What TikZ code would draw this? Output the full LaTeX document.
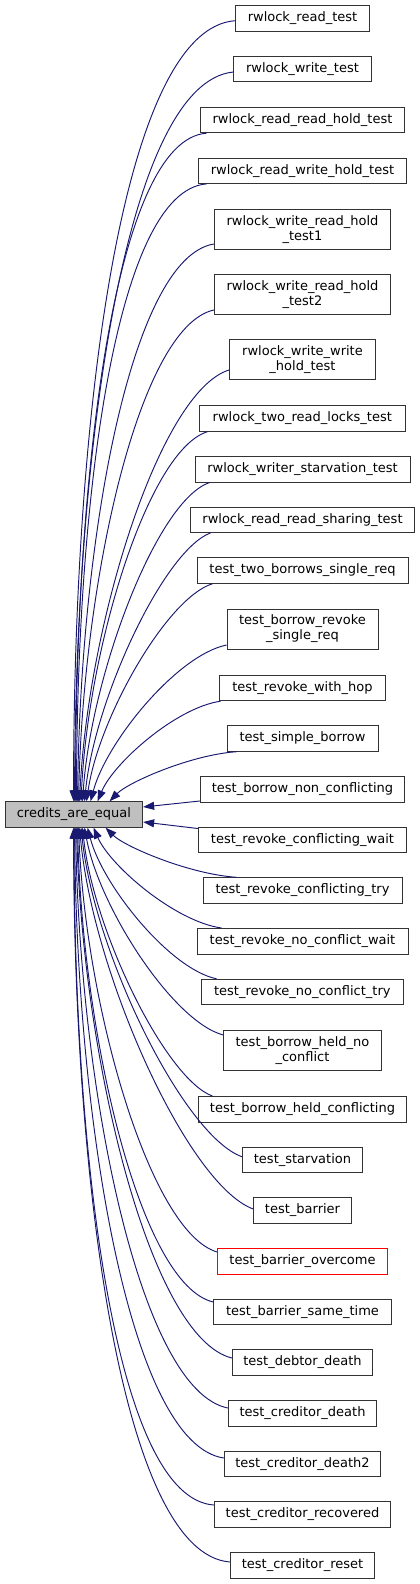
\documentclass[tikz,border=0pt]{standalone}
\usepackage{fontspec}
\setmainfont{DejaVu Sans}
\usetikzlibrary{arrows.meta,calc}
\definecolor{edgecol}{HTML}{191970}
\definecolor{caefill}{HTML}{BFBFBF}
\definecolor{redb}{HTML}{FF0000}
\newcommand\cedge[3]{%
  \path[cline] let \p1=(#1), \p2=(#2),
    \n1={abs(\x2-\x1)}, \n2={abs(\y2-\y1)},
    \n3={min(max((\n2/\n1-2.1)/2.7,0),1)},
    \n4={0.08*(1-\n3)+0.08*max(0,1-\n2/\n1/2.1)}
  in (\p1) .. controls ({\x1+\n4*\n1},{\y1+#3*(0.38+0.12*\n3)*\n2}) and ({\x2-(0.365+0.335*\n3)*\n1},{\y2-#3*(0.065-0.055*\n3)*\n2}) .. (\p2);}
\begin{document}
\begin{tikzpicture}[x=1pt,y=-1pt,
  tbox/.style={draw=black!80,line width=0.9pt,fill=white,inner sep=0pt,minimum height=25.5pt,font=\fontsize{13}{15}\selectfont,align=center},
  tall/.style={minimum height=40pt},
  cline/.style={draw=edgecol,line width=0.95pt,{Triangle[length=11pt,width=8pt]}-}]
\useasboundingbox (0,0) rectangle (420,1584);
\node[tbox,minimum width=133.5pt] (t1) at (302.5,18.5) {rwlock\_read\_test};
\node[tbox,minimum width=137.3pt] (t2) at (302.5,69.2) {rwlock\_write\_test};
\node[tbox,minimum width=204.4pt] (t3) at (302.5,120) {rwlock\_read\_read\_hold\_test};
\node[tbox,minimum width=208.4pt] (t4) at (302.5,170.7) {rwlock\_read\_write\_hold\_test};
\node[tbox,tall,minimum width=176.4pt] (t5) at (302.5,229.2) {rwlock\_write\_read\_hold\\\_test1};
\node[tbox,tall,minimum width=176.4pt] (t6) at (302.5,294.5) {rwlock\_write\_read\_hold\\\_test2};
\node[tbox,tall,minimum width=145.6pt] (t7) at (302.5,359.9) {rwlock\_write\_write\\\_hold\_test};
\node[tbox,minimum width=206pt] (t8) at (302.3,418.5) {rwlock\_two\_read\_locks\_test};
\node[tbox,minimum width=215pt] (t9) at (302.5,469.3) {rwlock\_writer\_starvation\_test};
\node[tbox,minimum width=224.4pt] (t10) at (302.5,519.7) {rwlock\_read\_read\_sharing\_test};
\node[tbox,minimum width=211pt] (t11) at (302.5,570.5) {test\_two\_borrows\_single\_req};
\node[tbox,tall,minimum width=151pt] (t12) at (302.5,629) {test\_borrow\_revoke\\\_single\_req};
\node[tbox,minimum width=165.6pt] (t13) at (302.5,688) {test\_revoke\_with\_hop};
\node[tbox,minimum width=151pt] (t14) at (302.5,738.5) {test\_simple\_borrow};
\node[tbox,minimum width=204.4pt] (t15) at (302.5,789.3) {test\_borrow\_non\_conflicting};
\node[tbox,minimum width=208.4pt] (t16) at (302.5,839.8) {test\_revoke\_conflicting\_wait};
\node[tbox,minimum width=199pt] (t17) at (302.5,890.5) {test\_revoke\_conflicting\_try};
\node[tbox,minimum width=211pt] (t18) at (302.5,941.2) {test\_revoke\_no\_conflict\_wait};
\node[tbox,minimum width=202pt] (t19) at (302.3,992) {test\_revoke\_no\_conflict\_try};
\node[tbox,tall,minimum width=157.6pt] (t20) at (302.5,1050.7) {test\_borrow\_held\_no\\\_conflict};
\node[tbox,minimum width=208.4pt] (t21) at (302.5,1109.3) {test\_borrow\_held\_conflicting};
\node[tbox,minimum width=120.4pt] (t22) at (302.5,1160) {test\_starvation};
\node[tbox,minimum width=97.6pt] (t23) at (302.5,1210.3) {test\_barrier};
\node[tbox,draw=redb,minimum width=169.6pt] (t24) at (302.5,1261.3) {test\_barrier\_overcome};
\node[tbox,minimum width=177.6pt] (t25) at (302.5,1312) {test\_barrier\_same\_time};
\node[tbox,minimum width=140.4pt] (t26) at (302.5,1362.5) {test\_debtor\_death};
\node[tbox,minimum width=148.4pt] (t27) at (302.5,1413.3) {test\_creditor\_death};
\node[tbox,minimum width=156.4pt] (t28) at (302.5,1463.8) {test\_creditor\_death2};
\node[tbox,minimum width=176.4pt] (t29) at (302.5,1514.5) {test\_creditor\_recovered};
\node[tbox,minimum width=144.4pt] (t30) at (302.5,1565.5) {test\_creditor\_reset};
\node[tbox,fill=caefill,minimum width=137.7pt] (cae) at (73.85,814.5) {credits\_are\_equal};
% edges to upper callers
\cedge{$(cae.north west)+(69,0)$}{$(t1.west)+(0,2.2)$}{1}
\cedge{$(cae.north west)+(70,0)$}{$(t2.west)+(0,2.8)$}{1}
\cedge{$(cae.north west)+(71,0)$}{$(t3.south west)+(6.7,0)$}{1}
\cedge{$(cae.north west)+(72,0)$}{$(t4.south west)+(8.7,0)$}{1}
\cedge{$(cae.north west)+(73,0)$}{$(t5.west)+(0,14.8)$}{1}
\cedge{$(cae.north west)+(74,0)$}{$(t6.west)+(0,15.5)$}{1}
\cedge{$(cae.north west)+(75,0)$}{$(t7.west)+(0,10)$}{1}
\cedge{$(cae.north west)+(76.5,0)$}{$(t8.south west)+(8.7,0)$}{1}
\cedge{$(cae.north west)+(78,0)$}{$(t9.south west)+(15,0)$}{1}
\cedge{$(cae.north west)+(80,0)$}{$(t10.south west)+(20.7,0)$}{1}
\cedge{$(cae.north west)+(82,0)$}{$(t11.south west)+(16,0)$}{1}
\cedge{$(cae.north west)+(86,0)$}{$(t12.west)+(0,16)$}{1}
\cedge{$(cae.north west)+(93,0)$}{$(t13.south west)+(1.3,0)$}{1}
\cedge{$(cae.north west)+(105,0)$}{$(t14.south west)+(10,0)$}{1}
% edges to the right
\draw[cline] ($(cae.east)+(0,-7.5)$) -- ($(t15.west)+(0,11.7)$);
\draw[cline] ($(cae.east)+(0,7.5)$) -- ($(t16.west)+(0,-11.3)$);
% edges to lower callers
\cedge{$(cae.south west)+(101,0)$}{$(t17.north west)+(34,0)$}{(-1)}
\cedge{$(cae.south west)+(89,0)$}{$(t18.north west)+(25,0)$}{(-1)}
\cedge{$(cae.south west)+(83,0)$}{$(t19.north west)+(15.7,0)$}{(-1)}
\cedge{$(cae.south west)+(80,0)$}{$(t20.west)+(0,-15.7)$}{(-1)}
\cedge{$(cae.south west)+(78,0)$}{$(t21.north west)+(14.7,0)$}{(-1)}
\cedge{$(cae.south west)+(76.5,0)$}{$(t22.west)+(0,-3.3)$}{(-1)}
\cedge{$(cae.south west)+(75,0)$}{$(t23.west)+(0,-1.3)$}{(-1)}
\cedge{$(cae.south west)+(74,0)$}{$(t24.west)+(0,-9.3)$}{(-1)}
\cedge{$(cae.south west)+(73,0)$}{$(t25.west)+(0,-10)$}{(-1)}
\cedge{$(cae.south west)+(72,0)$}{$(t26.west)+(0,-4.5)$}{(-1)}
\cedge{$(cae.south west)+(71,0)$}{$(t27.west)+(0,-5.3)$}{(-1)}
\cedge{$(cae.south west)+(70,0)$}{$(t28.west)+(0,-5.8)$}{(-1)}
\cedge{$(cae.south west)+(69.5,0)$}{$(t29.west)+(0,-9.5)$}{(-1)}
\cedge{$(cae.south west)+(69,0)$}{$(t30.west)+(0,-3.5)$}{(-1)}
\end{tikzpicture}
\end{document}
